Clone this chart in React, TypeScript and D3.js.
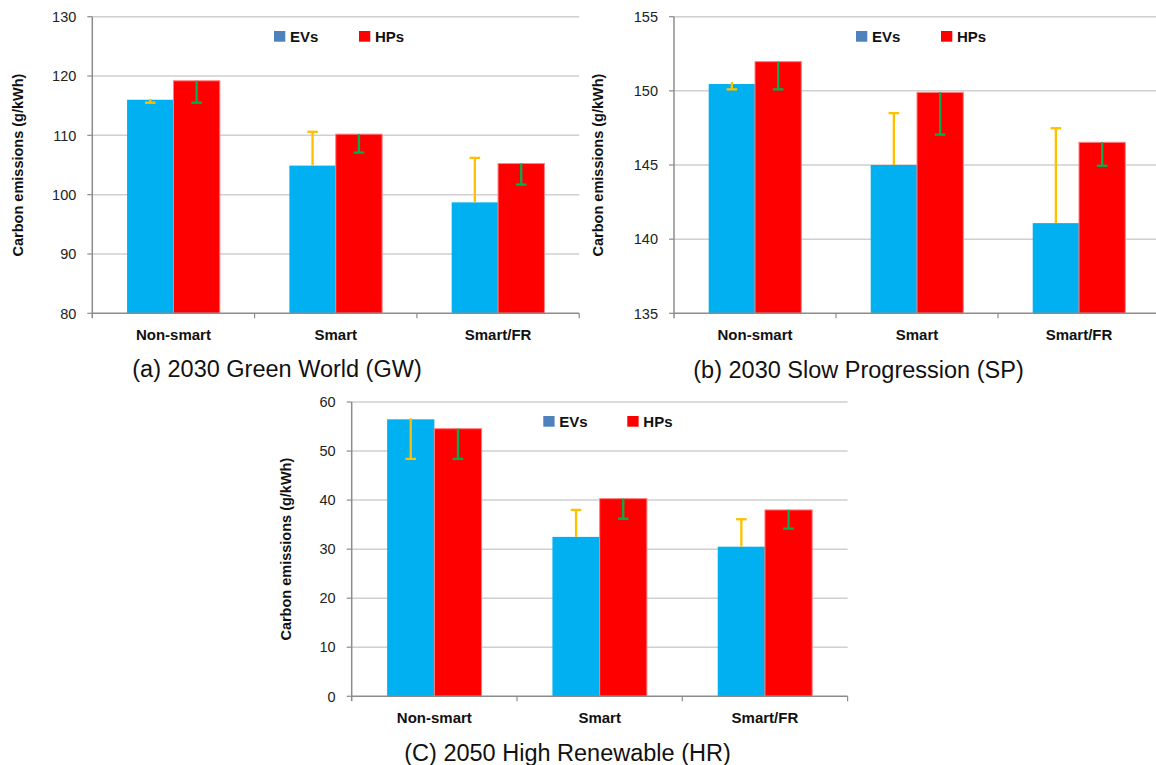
import React from "react";
import * as d3 from "d3";

const categories = ["Non-smart", "Smart", "Smart/FR"];
const seriesNames = ["EVs", "HPs"];

// (a) 2030 Green World
const gwTicks = [80, 90, 100, 110, 120, 130];
const gwEV = [116.0, 104.9, 98.7];
const gwHP = [119.2, 110.2, 105.25];
const gwEVErrStart = [116.15, 104.9, 98.7];
const gwEVErrEnd = [115.5, 110.6, 106.2];
const gwHPErrStart = [119.2, 110.2, 105.25];
const gwHPErrEnd = [115.5, 107.1, 101.7];

// (b) 2030 Slow Progression
const spTicks = [135, 140, 145, 150, 155];
const spEV = [150.46, 145.0, 141.08];
const spHP = [151.97, 149.9, 146.53];
const spEVErrStart = [150.6, 145.0, 141.08];
const spEVErrEnd = [150.1, 148.5, 147.48];
const spHPErrStart = [151.97, 149.9, 146.53];
const spHPErrEnd = [150.1, 147.05, 144.95];

// (c) 2050 High Renewable
const hrTicks = [0, 10, 20, 30, 40, 50, 60];
const hrEV = [56.47, 32.5, 30.5];
const hrHP = [54.56, 40.3, 38.0];
const hrEVErrStart = [56.7, 32.5, 30.5];
const hrEVErrEnd = [48.4, 38.0, 36.1];
const hrHPErrStart = [54.56, 40.3, 38.0];
const hrHPErrEnd = [48.4, 36.2, 34.2];

const yLabel = "Carbon emissions (g/kWh)";
const captions = ["(a) 2030 Green World (GW)", "(b) 2030 Slow Progression (SP)", "(C) 2050 High Renewable (HR)"];

const barColors = ["#00B0F0", "#FF0000"];
const legendColors = ["#4F81BD", "#FF0000"];
const errColors = ["#FFC000", "#00B050"];

type PanelProps = {
  x0: number; x1: number; y0: number; y1: number;
  ticks: number[];
  ev: number[]; hp: number[];
  evStart: number[]; evEnd: number[];
  hpStart: number[]; hpEnd: number[];
  legendX: number; legendY: number; legendGap: number;
  labelX: number; tickGap: number;
  caption: string; captionX: number; captionY: number;
};

function Panel(p: PanelProps) {
  const y = d3.scaleLinear().domain([p.ticks[0], p.ticks[p.ticks.length - 1]]).range([p.y1, p.y0]);
  const x = d3.scaleBand<string>().domain(categories).range([p.x0, p.x1]).padding(0);
  const step = x.bandwidth();
  const bw = step / 3.5;
  const inner = d3.scaleBand<string>().domain(seriesNames).range([(step - 2 * bw) / 2, (step + 2 * bw) / 2]).padding(0);
  const vals = [p.ev, p.hp];
  const starts = [p.evStart, p.hpStart];
  const ends = [p.evEnd, p.hpEnd];
  const font = "'Liberation Sans', Arial, sans-serif";
  return (
    <g>
      {p.ticks.map((t) => (
        <g key={"g" + t}>
          {t !== p.ticks[0] && (
            <line x1={p.x0} x2={p.x1} y1={y(t)} y2={y(t)} stroke="#CFCFCF" strokeWidth={1.5} />
          )}
          <line x1={p.x0 - 5} x2={p.x0} y1={y(t)} y2={y(t)} stroke="#8C8C8C" strokeWidth={1.2} />
          <text x={p.x0 - p.tickGap} y={y(t)} dy="0.36em" textAnchor="end" fontFamily={font} fontSize={14.5} fill="#222">
            {t}
          </text>
        </g>
      ))}
      {categories.map((c, i) =>
        seriesNames.map((s, j) => {
          const bx = (x(c) as number) + (inner(s) as number);
          const v = vals[j][i];
          return (
            <rect key={c + s} x={bx} y={y(v)} width={inner.bandwidth()} height={y(p.ticks[0]) - y(v)}
              fill={barColors[j]} stroke={j === 1 ? "#FF8080" : "none"} strokeWidth={j === 1 ? 1 : 0} />
          );
        })
      )}
      {categories.map((c, i) =>
        seriesNames.map((s, j) => {
          const cx = (x(c) as number) + (inner(s) as number) + inner.bandwidth() / 2;
          const ys = y(starts[j][i]);
          const ye = y(ends[j][i]);
          return (
            <g key={"e" + c + s} stroke={errColors[j]} strokeWidth={2.3}>
              <line x1={cx} x2={cx} y1={ys} y2={ye} />
              <line x1={cx - 5.3} x2={cx + 5.3} y1={ye} y2={ye} />
            </g>
          );
        })
      )}
      <line x1={p.x0} x2={p.x0} y1={p.y0} y2={p.y1 + 5} stroke="#8C8C8C" strokeWidth={1.5} />
      <line x1={p.x0} x2={p.x1} y1={p.y1} y2={p.y1} stroke="#8C8C8C" strokeWidth={1.5} />
      {categories.map((c) => (
        <line key={"t" + c} x1={(x(c) as number) + step} x2={(x(c) as number) + step} y1={p.y1} y2={p.y1 + 5} stroke="#8C8C8C" strokeWidth={1.2} />
      ))}
      {categories.map((c) => (
        <text key={"l" + c} x={(x(c) as number) + step / 2} y={p.y1 + 27} textAnchor="middle" fontFamily={font} fontWeight="bold" fontSize={15} fill="#111">
          {c}
        </text>
      ))}
      <text transform={`translate(${p.labelX},${(p.y0 + p.y1) / 2}) rotate(-90)`} textAnchor="middle" dy="0.35em" fontFamily={font} fontWeight="bold" fontSize={14.5} fill="#111">
        {yLabel}
      </text>
      {seriesNames.map((s, j) => (
        <g key={"lg" + s}>
          <rect x={p.legendX + j * p.legendGap} y={p.legendY - 10.7} width={11.3} height={10.7} fill={legendColors[j]} />
          <text x={p.legendX + j * p.legendGap + 16} y={p.legendY} fontFamily={font} fontWeight="bold" fontSize={15} fill="#111">
            {s}
          </text>
        </g>
      ))}
      <text x={p.captionX} y={p.captionY} textAnchor="middle" fontFamily={font} fontSize={23.5} fill="#111">
        {p.caption}
      </text>
    </g>
  );
}

export default function App() {
  return (
    <svg width={1156} height={765} style={{ position: "absolute", left: 0, top: 0, background: "#fff" }}>
      <rect width={1156} height={765} fill="#fff" />
      <Panel x0={92.3} x1={579.2} y0={16.7} y1={313.3} ticks={gwTicks} ev={gwEV} hp={gwHP}
        evStart={gwEVErrStart} evEnd={gwEVErrEnd} hpStart={gwHPErrStart} hpEnd={gwHPErrEnd}
        legendX={274} legendY={41.7} legendGap={85} labelX={18} tickGap={16}
        caption={captions[0]} captionX={277} captionY={377} />
      <Panel x0={674} x1={1160} y0={16.7} y1={313.3} ticks={spTicks} ev={spEV} hp={spHP}
        evStart={spEVErrStart} evEnd={spEVErrEnd} hpStart={spHPErrStart} hpEnd={spHPErrEnd}
        legendX={856} legendY={41.7} legendGap={85} labelX={598} tickGap={16}
        caption={captions[1]} captionX={858.5} captionY={377.5} />
      <Panel x0={351.7} x1={847.6} y0={402} y1={696.3} ticks={hrTicks} ev={hrEV} hp={hrHP}
        evStart={hrEVErrStart} evEnd={hrEVErrEnd} hpStart={hrHPErrStart} hpEnd={hrHPErrEnd}
        legendX={543.3} legendY={426.7} legendGap={84} labelX={286} tickGap={16}
        caption={captions[2]} captionX={567.5} captionY={760.5} />
    </svg>
  );
}
